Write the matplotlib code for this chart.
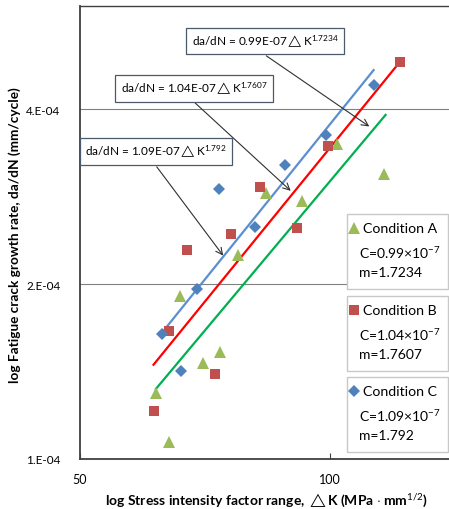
import numpy as np
import matplotlib
matplotlib.use("Agg")
import matplotlib.pyplot as plt
from matplotlib.patches import Rectangle

plt.rcParams['font.family'] = ['Lato', 'DejaVu Sans']
plt.rcParams['mathtext.fontset'] = 'custom'
plt.rcParams['mathtext.rm'] = 'Lato'
plt.rcParams['mathtext.it'] = 'Lato:italic'
plt.rcParams['mathtext.bf'] = 'Lato:bold'

# data
conditions = ['Condition A', 'Condition B', 'Condition C']
c_labels = ['0.99', '1.04', '1.09']
m_labels = ['1.7234', '1.7607', '1.792']

dk_a = [102.0, 116.2, 83.6, 92.4, 77.5, 66.0, 73.6, 70.3, 61.7, 63.9]
rate_a = [3.48e-4, 3.09e-4, 2.87e-4, 2.78e-4, 2.24e-4, 1.91e-4, 1.53e-4, 1.46e-4, 1.30e-4, 1.07e-4]

dk_b = [121.3, 99.5, 82.4, 91.2, 75.9, 67.3, 63.9, 72.6, 61.3]
rate_b = [4.83e-4, 3.46e-4, 2.94e-4, 2.50e-4, 2.44e-4, 2.29e-4, 1.66e-4, 1.40e-4, 1.21e-4]

dk_c = [113.0, 98.8, 88.3, 73.5, 81.1, 69.2, 62.8, 66.2]
rate_c = [4.40e-4, 3.61e-4, 3.20e-4, 2.91e-4, 2.51e-4, 1.96e-4, 1.64e-4, 1.42e-4]

# trend line end points
fit_dk_a = [61.7, 116.6]
fit_rate_a = [1.32e-4, 3.91e-4]
fit_dk_b = [61.3, 121.4]
fit_rate_b = [1.453e-4, 4.83e-4]
fit_dk_c = [62.8, 112.8]
fit_rate_c = [1.652e-4, 4.67e-4]

xticks = [50, 100]
yticks = [1e-4, 2e-4, 4e-4]
ytick_labels = ['1.E-04', '2.E-04', '4.E-04']

W, H = 449, 510
fig = plt.figure(figsize=(W / 100, H / 100), dpi=100)
ax = fig.add_axes([80 / W, 50 / H, 369 / W, 453 / H])
ax.set_xscale('log')
ax.set_yscale('log')
ax.set_xlim(50, 139)
ax.set_ylim(1e-4, 6.02e-4)

ax.plot(fit_dk_c, fit_rate_c, color='#5b8fd0', lw=1.6, zorder=2)
ax.plot(fit_dk_b, fit_rate_b, color='#ff0000', lw=1.6, zorder=2)
ax.plot(fit_dk_a, fit_rate_a, color='#00b050', lw=1.6, zorder=2)

ax.plot(dk_a, rate_a, '^', color='#9bbb59', ms=8, mew=0, zorder=3)
ax.plot(dk_b, rate_b, 's', color='#c0504d', ms=7, mew=0, zorder=3)
ax.plot(dk_c, rate_c, 'D', color='#4f81bd', ms=6, mew=0, zorder=3)

ax.set_xticks(xticks)
ax.set_xticklabels([str(v) for v in xticks], fontsize=9)
ax.set_yticks(yticks)
ax.set_yticklabels(ytick_labels, fontsize=8.5)
ax.minorticks_off()
ax.tick_params(axis='x', direction='in', length=4, pad=10, color='#404040')
ax.tick_params(axis='y', length=0, pad=14)
ax.grid(axis='y', color='#808080', lw=0.8)
ax.set_axisbelow(True)
for s in ['left', 'bottom', 'top']:
    ax.spines[s].set_color('#404040')
ax.spines['left'].set_linewidth(1.3)
ax.spines['bottom'].set_linewidth(1.3)
ax.spines['top'].set_linewidth(1.0)
ax.spines['right'].set_visible(False)

fig.text(266 / W, 1 - 500 / H,
         r'log Stress intensity factor range, $\triangle$K (MPa $\cdot$ mm$^{1/2}$)',
         ha='center', va='center', fontsize=10, fontweight='bold')
fig.text(15 / W, 1 - 235 / H, 'log Fatigue crack growth rate, da/dN (mm/cycle)',
         ha='center', va='center', rotation=90, fontsize=9.8, fontweight='bold')

# equation boxes and arrows
eqs = [r'da/dN = %sE-07$\triangle$K$^{%s}$' % (c, m) for c, m in zip(c_labels, m_labels)]
eq_pos = [(0.501, 0.923), (0.309, 0.818), (0.206, 0.679)]
arrow_from = [(0.505, 0.890), (0.312, 0.786), (0.208, 0.645)]
arrow_to = [(0.784, 0.734), (0.571, 0.592), (0.388, 0.449)]
for t, p, a0, a1 in zip(eqs, eq_pos, arrow_from, arrow_to):
    ax.annotate('', xy=a1, xytext=a0, xycoords='axes fraction',
                arrowprops=dict(arrowstyle='->', color='#303030', lw=0.8,
                                shrinkA=0, shrinkB=0, mutation_scale=12), zorder=4)
    ax.text(p[0], p[1], t, transform=ax.transAxes, ha='center', va='center',
            fontsize=8.5, zorder=5,
            bbox=dict(boxstyle='square,pad=0.45', fc='white', ec='#4a5a6a', lw=0.9))

# legend boxes
markers = ['^', 's', 'D']
mcolors = ['#9bbb59', '#c0504d', '#4f81bd']
msizes = [8, 7, 6]
box_bottoms = [0.3753, 0.1943, 0.0155]
for name, c, m, mk, mc, msz, b in zip(conditions, c_labels, m_labels, markers,
                                      mcolors, msizes, box_bottoms):
    ax.add_patch(Rectangle((0.7236, b), 0.2737, 0.1656, transform=ax.transAxes,
                           fc='white', ec='#c8c8c8', lw=1.0, zorder=6, clip_on=False))
    top = b + 0.1656
    ax.plot([0.7425], [top - 0.031], mk, color=mc, ms=msz, mew=0,
            transform=ax.transAxes, zorder=7, clip_on=False)
    ax.text(0.766, top - 0.031, name, transform=ax.transAxes, ha='left', va='center',
            fontsize=10.2, zorder=7)
    ax.text(0.756, top - 0.084, r'C=%s$\times$10$^{-7}$' % c, transform=ax.transAxes,
            ha='left', va='center', fontsize=10, zorder=7)
    ax.text(0.756, top - 0.128, 'm=%s' % m, transform=ax.transAxes,
            ha='left', va='center', fontsize=10, zorder=7)

fig.savefig('out.png', dpi=100)
